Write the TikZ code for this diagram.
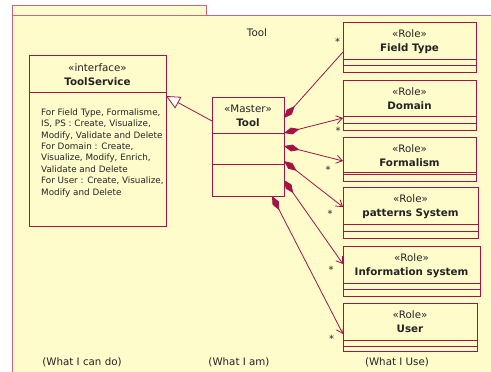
\documentclass[tikz,border=0pt]{standalone}
\usepackage{fontspec}
\setmainfont{DejaVu Sans}
\usetikzlibrary{arrows.meta,positioning}

\definecolor{umlline}{RGB}{160,20,70}
\definecolor{umlyellow}{RGB}{255,252,204}
\definecolor{pkgline}{RGB}{200,100,130}
\definecolor{umltext}{RGB}{35,35,35}

\tikzset{
  classbox/.style={draw=umlline, fill=umlyellow, line width=0.8pt, inner sep=0pt, outer sep=0pt, anchor=north west},
  stereo/.style={font=\fontsize{10.3}{12}\selectfont, text=umltext, inner sep=0pt, anchor=base},
  opstext/.style={align=left, font=\fontsize{8.8}{11.4}\selectfont, text=umltext, inner sep=0pt, anchor=north west},
  plaintext/.style={font=\fontsize{10.3}{12}\selectfont, text=umltext, inner sep=0pt},
  mult/.style={font=\fontsize{10}{12}\selectfont, text=umltext, inner sep=0pt},
  compos/.style={draw=umlline, line width=0.8pt, {Diamond[length=16pt,width=7pt,fill=umlline]}-},
  composnav/.style={draw=umlline, line width=0.8pt, {Diamond[length=16pt,width=7pt,fill=umlline]}-{Straight Barb[length=6pt,width=8pt]}},
  generalize/.style={draw=umlline, line width=0.8pt, -{Triangle[open,length=14pt,width=13pt,fill=white]}}
}

\begin{document}
\begin{tikzpicture}[x=1pt,y=-1pt]
    \useasboundingbox (0,0) rectangle (491,372);
    \fill[white] (0,0) rectangle (491,372);

    % package frame
    \draw[pkgline, fill=umlyellow, line width=0.8pt] (12,5) rectangle (206,15);
    \draw[pkgline, fill=umlyellow, line width=0.8pt] (12,15) rectangle (497,378);
    \node[plaintext] (pkgname) at (257,33) {Tool};

    % interface ToolService
    \node[classbox, minimum width=137, minimum height=37] (svchead) at (29,55) {};
    \node[classbox, minimum width=137, minimum height=134] (svcbody) at (svchead.south west) {};
    \node[stereo] (svcstereo) at ([yshift=-16]svchead.north) {«interface»};
    \node[stereo] (svcname) at ([yshift=-30]svchead.north) {\textbf{ToolService}};
    \node[opstext] (svcops) at (41,108.5) {For Field Type, Formalisme,\\IS, PS : Create, Visualize,\\Modify, Validate and Delete\\For Domain : Create,\\Visualize, Modify, Enrich,\\Validate and Delete\\For User : Create, Visualize,\\Modify and Delete};

    % master class Tool
    \node[classbox, minimum width=72, minimum height=36] (toolhead) at (212,97) {};
    \node[classbox, minimum width=72, minimum height=31] (toolattr) at (toolhead.south west) {};
    \node[classbox, minimum width=72, minimum height=32] (toolops) at (toolattr.south west) {};
    \node[stereo] (toolstereo) at ([yshift=-15]toolhead.north) {«Master»};
    \node[stereo] (toolname) at ([yshift=-29]toolhead.north) {\textbf{Tool}};

    % role classes
    \foreach \n/\y/\w/\h/\da/\db/\txt in {ftype/22/133/50/13/7/Field Type,
        domain/80/133/50/14/7/Domain, formal/137/133/44/9/7/Formalism,
        patsys/187/135/51/14/7/patterns System, infosys/246/137/50/13/7/Information system,
        user/303/134/48/11/5/User}{
      \node[classbox, minimum width=\w, minimum height=\h] (\n) at (343,\y) {};
      \draw[umlline, line width=0.8pt] ([yshift=\da]\n.south west) -- ([yshift=\da]\n.south east);
      \draw[umlline, line width=0.8pt] ([yshift=\db]\n.south west) -- ([yshift=\db]\n.south east);
      \node[stereo] (\n-s) at ([yshift=-15.5]\n.north) {«Role»};
      \node[stereo] (\n-t) at ([yshift=-29.5]\n.north) {\textbf{\txt}};
    }

    % realization of the interface
    \draw[generalize] ([yshift=-6]toolhead.west) -- ([yshift=-4]svcbody.north east);

    % compositions
    \draw[compos] ([yshift=-3]toolhead.east) -- ([yshift=-5]ftype.west);
    \draw[composnav] (toolhead.south east) -- ([yshift=-13]domain.west);
    \draw[composnav] ([yshift=2.5]toolattr.east) -- ([yshift=-2]formal.west);
    \draw[composnav] ([yshift=-12.5]toolattr.east) -- ([yshift=5.5]patsys.west);
    \draw[composnav] (toolops.east) -- ([yshift=7]infosys.west);
    \draw[composnav] ([xshift=24]toolops.south) -- ([yshift=-7]user.west);

    % multiplicities
    \node[mult] (m1) at (337.5,42) {*};
    \node[mult] (m2) at (338,131) {*};
    \node[mult] (m3) at (328,170) {*};
    \node[mult] (m4) at (330,214) {*};
    \node[mult] (m5) at (331,270) {*};
    \node[mult] (m6) at (331.5,338.5) {*};

    % column captions
    \node[plaintext] (cando) at (82,362) {(What I can do)};
    \node[plaintext] (iam) at (239,362) {(What I am)};
    \node[plaintext] (iuse) at (397,362) {(What I Use)};
\end{tikzpicture}
\end{document}
